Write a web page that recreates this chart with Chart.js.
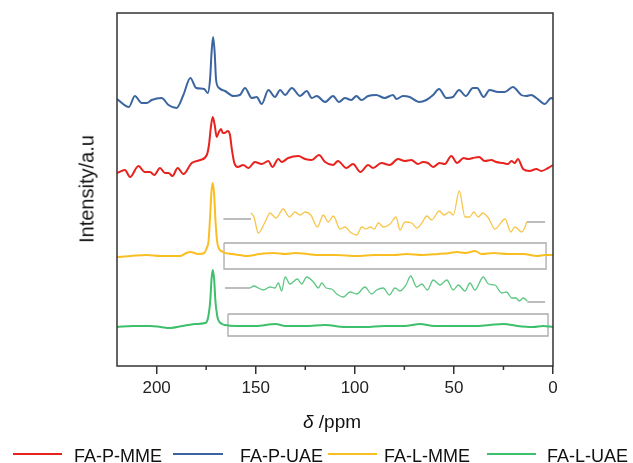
<!DOCTYPE html>
<html>
<head>
<meta charset="utf-8">
<script src="https://cdn.jsdelivr.net/npm/chart.js@4.4.1/dist/chart.umd.min.js"></script>
<style>
  body { margin: 0; background: #fff; font-family: "Liberation Sans", Arial, sans-serif; color: #111; }
  #wrap { position: relative; width: 633px; height: 463px; overflow: hidden; }
  #chart { position: absolute; left: 0; top: 0; }
  #ylabel { position: absolute; left: 87px; top: 189px; transform: translate(-50%, -50%) rotate(-90deg);
            font-size: 20px; white-space: nowrap; }
  #xlabel { position: absolute; left: 332px; top: 422px; transform: translate(-50%, -50%);
            font-size: 19px; white-space: nowrap; }
  .leg-line { position: absolute; height: 2px; top: 453px; }
  .leg-text { position: absolute; top: 446px; line-height: 20px; font-size: 18px; white-space: nowrap; }
</style>
</head>
<body>
<div id="wrap">
  <canvas id="chart" width="633" height="463"></canvas>
  <div id="ylabel">Intensity/a.u</div>
  <div id="xlabel"><i>δ</i> /ppm</div>
  <div class="leg-line" style="left:13px;width:49px;background:#e8221e"></div>
  <div class="leg-text" style="left:74px">FA-P-MME</div>
  <div class="leg-line" style="left:173px;width:50px;background:#3b65a0"></div>
  <div class="leg-text" style="left:240px">FA-P-UAE</div>
  <div class="leg-line" style="left:328px;width:49px;background:#f9bf22"></div>
  <div class="leg-text" style="left:384px">FA-L-MME</div>
  <div class="leg-line" style="left:487px;width:49px;background:#3dbf6b"></div>
  <div class="leg-text" style="left:547px">FA-L-UAE</div>
</div>
<script>
// chemical shift axis
var tickValues = [200, 175, 150, 125, 100, 75, 50, 25, 0];
var labeledTicks = [200, 150, 100, 50, 0];

// vertical stacking of the four spectra (a.u.)
var offsets = { pMME: 196, pUAE: 268, lMME: 110, lUAE: 39 };

// FA-P-UAE (blue)
var pUaePpm = [220,214,211,207.5,205,202.5,197.5,194,190,186.5,183,180,176,174.2,173,172.3,171.5,170.7,170,168.5,165.5,161.3,158,155.4,152,149.5,147,143.6,140.3,137.7,135.2,131.8,127.6,124.3,121.7,119.2,115,111,108,105,101.8,99.2,96.7,93.3,89.2,85,80.7,79,75.7,72.3,67.6,63.9,60.5,57.5,53.8,50.5,47.4,44,40.4,38.3,35,32,27.7,24.4,20.2,16,13.5,11,8.4,4.2,0.9,0];
var pUaeInt = [-1,-9,2,-5,-5,-2,0,-7,-10,3,20,10,9,5,20,45,61,45,18,10,7,2,3,10,0,1,-6,8,1,8,3,10,2,7,0,2,-4,2,-4,0,-2,2,-2,2,3,0,3,-1,2,1,-4,-2,3,9,0,1,8,2,10,10,1,8,6,6,11,3,2,3,0,-6,0,-1];

// FA-P-MME (red)
var pMmePpm = [220,216,213.4,209.2,206,203.3,201.2,198.3,195.8,194,192,189.4,186.5,182.3,178,174.7,173.6,172.5,171.7,170.7,169.7,168.6,167.5,166.6,165.8,164.9,164.1,163,162,160.8,159.1,156.3,153.7,150.4,147,143.6,141.6,138.6,136.9,133.6,128.5,125.1,121.7,118.1,115,111,108.5,104.3,100.9,97.2,93.3,90.8,86.6,82.4,78.2,74.8,71.5,68.1,65.6,63.1,60.5,57.2,54.6,51.3,48.4,45.1,42.9,40.4,37.3,34.5,31.1,28.6,25.2,22.7,21,19.3,17.7,15.1,11.8,8.4,5.9,2.5,0];
var pMmeInt = [-3,0,-7,4,-2,-2,-5,2,-3,-3,-6,2,-4,7,10,15,25,45,53,45,33,38,41,37,37,38,39,35,20,7,3,5,2,8,6,9,3,11,8,12,14,11,10,15,8,5,9,2,6,-2,5,2,7,5,11,9,10,6,8,7,3,7,6,14,7,12,11,12,13,9,10,8,7,6,9,7,11,1,-1,1,-1,2,5];

// FA-L-MME (yellow)
var lMmePpm = [220,213,205,198,193,188,185,183,179,176,174.7,173.8,173,172.3,171.7,171,170.3,169.5,168.9,166.5,162,158,154.5,148,141,135,130,124,118,110,99,90,80,74,66,58,52,48.6,44,39.4,36,30,23,15,8,4,0];
var lMmeInt = [-1,0,1,0,0,0,3,4,2,3,8,15,40,65,73,62,35,15,9,4,2,1,0,2,3,2,3,2,1,1,0,1,1,2,1,2,3,4,3,5,2,3,2,2,0,1,1];

// FA-L-UAE (green)
var lUaePpm = [220,212,203,198,193,187,180.6,175.6,174.2,173,172.3,171.7,171,170.3,169.5,168.9,167,165.5,160,150,140,135,125,115,105,95,85,75,67,60,50,40,32,25,18,10,5,0];
var lUaeInt = [0,1,1,0,-1,1,3,4,8,25,48,57,48,25,12,7,3,2,1,1,3,1,1,2,0,0,1,1,3,1,1,1,2,3,1,0,1,0];

// magnified insets (drawn above each spectrum)
var lMmeZoomPpm = [152.4,150.9,148.7,145.3,142.8,139.8,136.1,133,130.2,127.6,125.1,122.2,118.9,115.9,113.4,110.8,107.5,104.9,102.4,99,96.5,94.3,92.3,90.2,88.1,85.6,82.2,79.2,77.2,74.7,71.3,68.8,66.2,63.7,61.2,57.4,55,52.3,50.3,47.3,44.4,42.2,39.9,37.7,35.5,32.6,29.3,24.2,21.3,19.2,15.8,14.1,13.3];
var lMmeZoomInt = [43,39,23,34,43,38,47,39,44,41,44,41,29,41,34,40,27,29,24,21,29,27,29,27,33,29,32,39,26,34,33,28,33,40,36,45,41,44,41,65,39,39,44,39,43,38,27,37,24,29,24,29,34];
var lMmeZoomEnds = [[166.3, 152.4, 37], [13.3, 4, 34]];
var lMmeBox = [166, 3.5, 13, -13];

var lUaeZoomPpm = [152.9,150.9,148.7,146.2,142.8,140.3,138.6,136.9,135.2,132.7,129,126.8,124.3,120.9,118.4,116.7,114.5,111.7,109.1,105.8,102.4,99,94.9,91.5,89,85.6,82.6,79.7,77.2,74.2,71.8,68.8,66.2,63.4,60.4,57,53.6,50.3,47.8,44.4,41.9,39.4,35.2,32.6,29.3,25.9,23.4,20.8,18.7,17,15,13];
var lUaeZoomInt = [39,41,39,37,40,39,44,36,50,43,48,43,50,45,39,44,39,38,33,30,35,33,40,33,37,39,32,39,36,42,51,40,43,37,47,42,47,37,42,36,44,37,50,43,42,34,35,29,29,26,29,26];
var lUaeZoomEnds = [[165.5, 152.9, 39], [13, 4, 25]];
var lUaeBox = [164, 2.5, 13, -9];

function pts(xs, ys, off) {
    var out = [];
    for (var i = 0; i < xs.length; i++) out.push({ x: xs[i], y: ys[i] + off });
    return out;
}

function spectrum(xs, ys, off, color, width, order) {
    return {
        data: pts(xs, ys, off),
        borderColor: color,
        borderWidth: width,
        pointRadius: 0,
        fill: false,
        cubicInterpolationMode: 'monotone',
        order: order
    };
}

function segment(end, off) {
    return {
        data: [{ x: end[0], y: end[2] + off }, { x: end[1], y: end[2] + off }],
        borderColor: '#9a9a9a',
        borderWidth: 1.3,
        pointRadius: 0,
        tension: 0,
        order: 1
    };
}

function box(b, off) {
    return {
        data: [
            { x: b[0], y: b[2] + off }, { x: b[1], y: b[2] + off },
            { x: b[1], y: b[3] + off }, { x: b[0], y: b[3] + off },
            { x: b[0], y: b[2] + off }
        ],
        borderColor: '#aaaaaa',
        borderWidth: 1.3,
        pointRadius: 0,
        tension: 0,
        order: 2
    };
}

var datasets = [
    spectrum(pUaePpm, pUaeInt, offsets.pUAE, '#3b65a0', 2, 0),
    spectrum(pMmePpm, pMmeInt, offsets.pMME, '#e8221e', 2, 0),
    spectrum(lMmePpm, lMmeInt, offsets.lMME, '#f9bf22', 2, 0),
    spectrum(lUaePpm, lUaeInt, offsets.lUAE, '#3dbf6b', 2, 0),
    spectrum(lMmeZoomPpm, lMmeZoomInt, offsets.lMME, '#f8c64a', 1.3, 1),
    spectrum(lUaeZoomPpm, lUaeZoomInt, offsets.lUAE, '#5cc682', 1.3, 1),
    segment(lMmeZoomEnds[0], offsets.lMME),
    segment(lMmeZoomEnds[1], offsets.lMME),
    segment(lUaeZoomEnds[0], offsets.lUAE),
    segment(lUaeZoomEnds[1], offsets.lUAE),
    box(lMmeBox, offsets.lMME),
    box(lUaeBox, offsets.lUAE)
];

// frame around plot + short minor ticks
var framePlugin = {
    id: 'frame',
    afterDraw: function (chart) {
        var a = chart.chartArea, c = chart.ctx, xs = chart.scales.x;
        c.save();
        c.strokeStyle = '#333';
        c.lineWidth = 1.5;
        c.strokeRect(a.left, a.top, a.right - a.left, a.bottom - a.top);
        c.beginPath();
        tickValues.forEach(function (v) {
            if (labeledTicks.indexOf(v) >= 0) return;
            var px = xs.getPixelForValue(v);
            c.moveTo(px, a.bottom);
            c.lineTo(px, a.bottom + 4);
        });
        c.stroke();
        c.restore();
    }
};

var ctx = document.getElementById('chart').getContext('2d');
var myChart = new Chart(ctx, {
    type: 'line',
    data: { datasets: datasets },
    options: {
        responsive: false,
        animation: false,
        events: [],
        layout: { padding: { left: 117, right: 80, top: 13, bottom: 57 } },
        plugins: { legend: { display: false }, tooltip: { enabled: false } },
        scales: {
            x: {
                type: 'linear',
                reverse: true,
                min: 0,
                max: 220,
                afterBuildTicks: function (s) {
                    s.ticks = tickValues.map(function (v) { return { value: v }; });
                },
                afterFit: function (s) { s.height = 40; },
                border: { display: false },
                grid: {
                    drawOnChartArea: false,
                    drawTicks: true,
                    tickLength: 8,
                    lineWidth: 1.5,
                    color: function (c) {
                        return c.tick && labeledTicks.indexOf(c.tick.value) >= 0 ? '#333' : 'rgba(0,0,0,0)';
                    }
                },
                ticks: {
                    autoSkip: false,
                    maxRotation: 0,
                    padding: 4,
                    color: '#222',
                    font: { family: 'Liberation Sans, Arial, sans-serif', size: 17 },
                    callback: function (v) { return labeledTicks.indexOf(v) >= 0 ? String(v) : ''; }
                }
            },
            y: { type: 'linear', display: false, min: 0, max: 353 }
        }
    },
    plugins: [framePlugin]
});
</script>
</body>
</html>
